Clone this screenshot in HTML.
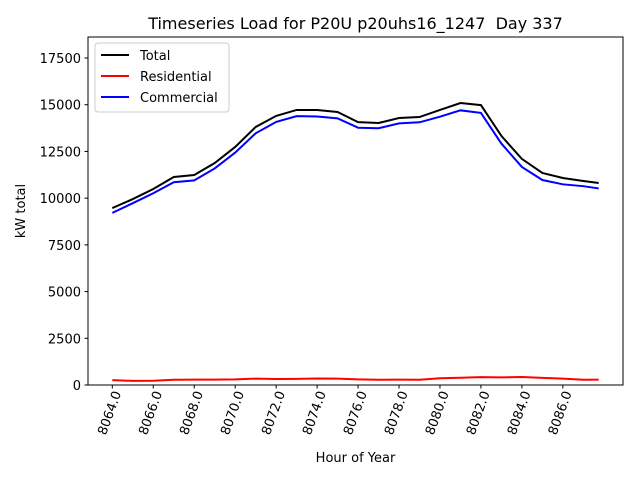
<!DOCTYPE html>
<html><head><meta charset="utf-8"><style>
body{margin:0;background:#fff;font-family:"Liberation Sans","DejaVu Sans",sans-serif}
</style></head><body>
<svg id="chart" width="640" height="480" xmlns="http://www.w3.org/2000/svg" font-family="DejaVu Sans, Liberation Sans, sans-serif">
<rect width="640" height="480" fill="#fff"/>
<text x="355.5" y="29" text-anchor="middle" font-size="16">Timeseries Load for P20U p20uhs16_1247&#160; Day 337</text>
<g id="grid"></g>
<g id="lines"></g>
<rect x="88" y="37" width="535" height="348" fill="none" stroke="#000" stroke-width="1"/>
<g id="yticks"></g><g id="xticks"></g>
<text x="355.5" y="462" text-anchor="middle" font-size="13">Hour of Year</text>
<text transform="translate(25,211) rotate(-90)" text-anchor="middle" font-size="13">kW total</text>
<g>
<rect x="95" y="43" width="134" height="69" rx="3" fill="#fff" fill-opacity="0.8" stroke="#ccc"/>
<g><line x1="101" y1="55" x2="129" y2="55" stroke="#000" stroke-width="2"/><text x="140" y="60" font-size="13">Total</text></g>
<g><line x1="101" y1="76" x2="129" y2="76" stroke="red" stroke-width="2"/><text x="140" y="81" font-size="13">Residential</text></g>
<g><line x1="101" y1="97" x2="129" y2="97" stroke="blue" stroke-width="2"/><text x="140" y="102" font-size="13">Commercial</text></g>
</g>
</svg>
<script>
const hours=[8064,8065,8066,8067,8068,8069,8070,8071,8072,8073,8074,8075,8076,8077,8078,8079,8080,8081,8082,8083,8084,8085,8086,8087,8087.75];
const total=[9470,9950,10490,11130,11240,11880,12740,13810,14400,14720,14720,14610,14070,14020,14290,14340,14720,15090,14980,13330,12100,11350,11080,10920,10810];
const residential=[260,220,230,280,290,290,300,340,320,330,350,340,300,280,290,280,360,390,420,410,430,380,340,280,290];
const commercial=[9210,9730,10260,10850,10950,11590,12440,13470,14080,14390,14370,14270,13770,13740,14000,14060,14360,14700,14560,12920,11670,10970,10740,10640,10520];
const yTicks=[0,2500,5000,7500,10000,12500,15000,17500];
const xTicks=[8064,8066,8068,8070,8072,8074,8076,8078,8080,8082,8084,8086];
const L=88,R=623,T=37,B=385;
const xmin=hours[0],xmax=hours[hours.length-1],pad=(xmax-xmin)*0.05;
const x0=xmin-pad,x1=xmax+pad,ymax=18624;
const sx=v=>L+(v-x0)/(x1-x0)*(R-L);
const sy=v=>B-v/ymax*(B-T);
const NS="http://www.w3.org/2000/svg";
const lines=document.getElementById('lines');
function series(vals,color,name){
  const p=document.createElementNS(NS,'polyline');
  p.setAttribute('points',vals.map((v,i)=>sx(hours[i])+','+sy(v)).join(' '));
  p.setAttribute('fill','none');p.setAttribute('stroke',color);p.setAttribute('stroke-width','2');
  
  
  lines.appendChild(p);
}
series(total,'#000','total-line');
series(residential,'red','residential-line');
series(commercial,'blue','commercial-line');
const yt=document.getElementById('yticks');
yTicks.forEach(v=>{
  const l=document.createElementNS(NS,'line');
  l.setAttribute('x1',L-3.5);l.setAttribute('x2',L);l.setAttribute('y1',sy(v));l.setAttribute('y2',sy(v));l.setAttribute('stroke','#000');
  
  
  yt.appendChild(l);
  const t=document.createElementNS(NS,'text');
  t.setAttribute('x',L-7);t.setAttribute('y',sy(v)+5);t.setAttribute('text-anchor','end');t.setAttribute('font-size','13');
  t.textContent=v;
  
  
  yt.appendChild(t);
});
const xt=document.getElementById('xticks');
xTicks.forEach(v=>{
  const x=sx(v);
  const l=document.createElementNS(NS,'line');
  l.setAttribute('x1',x);l.setAttribute('x2',x);l.setAttribute('y1',B);l.setAttribute('y2',B+3.5);l.setAttribute('stroke','#000');
  
  
  xt.appendChild(l);
  const t=document.createElementNS(NS,'text');
  t.setAttribute('transform','translate('+(x+9)+','+(B+8)+') rotate(-70)');
  t.setAttribute('text-anchor','end');t.setAttribute('font-size','13');
  t.textContent=v.toFixed(1);
  
  
  xt.appendChild(t);
});
</script>
</body></html>
